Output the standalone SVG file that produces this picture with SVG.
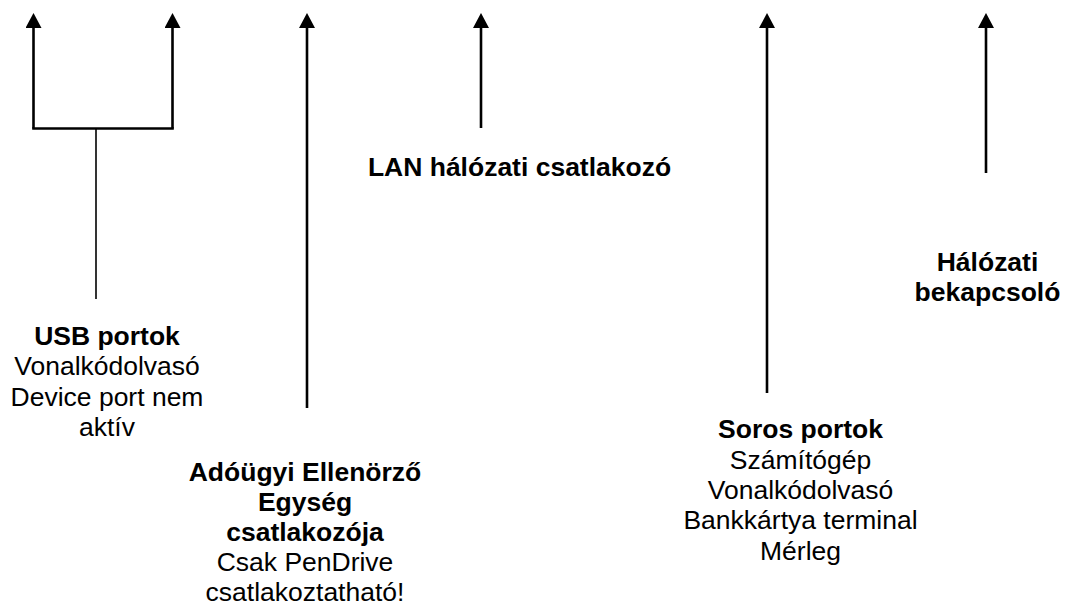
<svg xmlns="http://www.w3.org/2000/svg" width="1076" height="607" viewBox="0 0 1076 607">
<style>
.bg{fill:#fff}
.ln{stroke:#000;stroke-width:2.6;fill:none}
.thin{stroke:#000;stroke-width:1.6;fill:none}
.arr{marker-end:url(#ah)}
text{font-family:"Liberation Sans",Arial,sans-serif;font-size:25px;fill:#000;text-anchor:middle}
.b{font-weight:bold}
</style>
<defs>
<marker id="ah" markerUnits="userSpaceOnUse" markerWidth="15" markerHeight="16" refX="8" refY="8" orient="auto" viewBox="0 0 15 16">
<path d="M0,0 L15,8 L0,16 Z" fill="#000"/>
</marker>
</defs>
<rect class="bg" width="1076" height="607"/>
<g id="connectors">
<path class="ln arr" d="M33.5,128.5 V20"/>
<path class="ln arr" d="M172.5,128.5 V20"/>
<path class="ln" d="M32.2,128.5 H173.8"/>
<path class="thin" d="M96,128.5 V299"/>
<path class="ln arr" d="M307,408 V20"/>
<path class="ln arr" d="M481,128 V20"/>
<path class="ln arr" d="M767,393 V20"/>
<path class="ln arr" d="M986,173 V20"/>
</g>
<g id="usb">
<text transform="translate(107,0) scale(1.06,1)"><tspan class="b" x="0" y="345">USB portok</tspan><tspan x="0" y="375.5">Vonalkódolvasó</tspan><tspan x="0" y="406">Device port nem</tspan><tspan x="0" y="436.5">aktív</tspan></text>
</g>
<g id="aee">
<text transform="translate(305,0) scale(1.06,1)"><tspan class="b" x="0" y="481.5">Adóügyi Ellenörző</tspan><tspan class="b" x="0" y="511.5">Egység</tspan><tspan class="b" x="0" y="541.5">csatlakozója</tspan><tspan x="0" y="571.5">Csak PenDrive</tspan><tspan x="0" y="601.5">csatlakoztatható!</tspan></text>
</g>
<g id="lan">
<text class="b" transform="translate(519.5,0) scale(1.06,1)" x="0" y="176">LAN hálózati csatlakozó</text>
</g>
<g id="soros">
<text transform="translate(800.5,0) scale(1.06,1)"><tspan class="b" x="0" y="438.5">Soros portok</tspan><tspan x="0" y="469">Számítógép</tspan><tspan x="0" y="499">Vonalkódolvasó</tspan><tspan x="0" y="529.5">Bankkártya terminal</tspan><tspan x="0" y="560">Mérleg</tspan></text>
</g>
<g id="halozati">
<text class="b" transform="translate(987.5,0) scale(1.06,1)"><tspan x="0" y="271">Hálózati</tspan><tspan x="0" y="301.5">bekapcsoló</tspan></text>
</g>
</svg>
